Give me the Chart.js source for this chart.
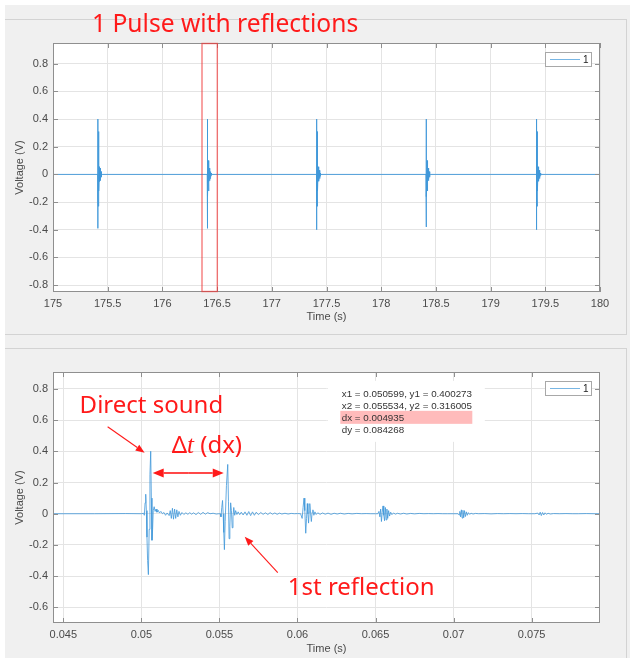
<!DOCTYPE html>
<html><head><meta charset="utf-8">
<script src="https://cdn.jsdelivr.net/npm/chart.js@4/dist/chart.umd.min.js"></script>
<style>
html,body{margin:0;padding:0;background:#fff;}
#page{position:relative;width:630px;height:658px;overflow:hidden;}
.bg{position:absolute;left:5px;top:5px;width:625px;height:653px;background:#f0f0f0;}
.hl{position:absolute;height:1px;background:#d3d3d3;}
.vl{position:absolute;width:1px;background:#d3d3d3;}
canvas{position:absolute;left:0;}
</style></head><body>
<div id="page">
<div class="bg"></div>
<div class="hl" style="left:5px;top:19px;width:622px"></div>
<div class="vl" style="left:626px;top:19px;height:315px"></div>
<div class="hl" style="left:5px;top:334px;width:622px"></div>
<div class="hl" style="left:5px;top:348px;width:622px"></div>
<div class="vl" style="left:626px;top:348px;height:310px"></div>
<canvas id="c1" width="630" height="330" style="top:0px"></canvas>
<canvas id="c2" width="630" height="318" style="top:340px"></canvas>
</div>
<script>
// ---------------- DATA ----------------
// Top panel: 5 s of recording, one pulse per second
const topXTicks = [175, 175.5, 176, 176.5, 177, 177.5, 178, 178.5, 179, 179.5, 180];
const topXLabels = ['175', '175.5', '176', '176.5', '177', '177.5', '178', '178.5', '179', '179.5', '180'];
const topYTicks = [-0.8, -0.6, -0.4, -0.2, 0, 0.2, 0.4, 0.6, 0.8];
const topYLabels = ['-0.8', '-0.6', '-0.4', '-0.2', '0', '0.2', '0.4', '0.6', '0.8'];

const topTime = [
  175.0000,
  175.4096, 175.4098, 175.4100, 175.4102, 175.4104, 175.4150, 175.4152, 175.4154, 175.4200, 175.4202,
  175.4250, 175.4252, 175.4300, 175.4302, 175.4350, 175.4352, 175.4400, 175.4402, 175.4450, 175.4452, 175.4500,
  176.4096, 176.4098, 176.4100, 176.4102, 176.4104, 176.4150, 176.4152, 176.4154, 176.4200, 176.4202,
  176.4250, 176.4252, 176.4300, 176.4302, 176.4350, 176.4352, 176.4400, 176.4402, 176.4450, 176.4452, 176.4500,
  177.4096, 177.4098, 177.4100, 177.4102, 177.4104, 177.4150, 177.4152, 177.4154, 177.4200, 177.4202,
  177.4250, 177.4252, 177.4300, 177.4302, 177.4350, 177.4352, 177.4400, 177.4402, 177.4450, 177.4452, 177.4500,
  178.4096, 178.4098, 178.4100, 178.4102, 178.4104, 178.4150, 178.4152, 178.4154, 178.4200, 178.4202,
  178.4250, 178.4252, 178.4300, 178.4302, 178.4350, 178.4352, 178.4400, 178.4402, 178.4450, 178.4452, 178.4500,
  179.4196, 179.4198, 179.4200, 179.4202, 179.4204, 179.4250, 179.4252, 179.4254, 179.4300, 179.4302,
  179.4350, 179.4352, 179.4400, 179.4402, 179.4450, 179.4452, 179.4500, 179.4502, 179.4550, 179.4552, 179.4600,
  180.0000
];
const topVolt = [
  0,
  0, 0.12, -0.39, 0.40, -0.17, -0.23, 0.31, -0.16, 0.10, -0.12,
  0.055, -0.05, 0.045, -0.045, 0.03, -0.03, 0.02, -0.02, 0.01, -0.008, 0,
  0, 0.12, -0.39, 0.40, -0.17, -0.23, 0.31, -0.16, 0.10, -0.12,
  0.055, -0.05, 0.045, -0.045, 0.03, -0.03, 0.02, -0.02, 0.01, -0.008, 0,
  0, 0.12, -0.40, 0.40, -0.17, -0.23, 0.31, -0.16, 0.10, -0.12,
  0.055, -0.05, 0.045, -0.045, 0.03, -0.03, 0.02, -0.02, 0.01, -0.008, 0,
  0, 0.12, -0.38, 0.40, -0.17, -0.23, 0.31, -0.16, 0.10, -0.12,
  0.055, -0.05, 0.045, -0.045, 0.03, -0.03, 0.02, -0.02, 0.01, -0.008, 0,
  0, 0.12, -0.40, 0.40, -0.17, -0.23, 0.31, -0.16, 0.10, -0.12,
  0.055, -0.05, 0.045, -0.045, 0.03, -0.03, 0.02, -0.02, 0.01, -0.008, 0,
  0
];

// Bottom panel: zoom on one pulse (direct sound + reflections)
const botXTicks = [0.045, 0.05, 0.055, 0.06, 0.065, 0.07, 0.075];
const botXLabels = ['0.045', '0.05', '0.055', '0.06', '0.065', '0.07', '0.075'];
const botYTicks = [-0.6, -0.4, -0.2, 0, 0.2, 0.4, 0.6, 0.8];
const botYLabels = ['-0.6', '-0.4', '-0.2', '0', '0.2', '0.4', '0.6', '0.8'];

const leadT = [0.0443, 0.0470, 0.0490, 0.0500, 0.05015];
const leadV = [0, 0, 0.001, 0, 0.003];

const directT = [0.05019, 0.05024, 0.05028, 0.05032, 0.05036, 0.05040, 0.05045, 0.05050, 0.05055, 0.050599,
  0.05064, 0.05068, 0.05072, 0.05076, 0.05082, 0.05088, 0.05094, 0.05100, 0.05108, 0.05116,
  0.05125, 0.05135, 0.05145, 0.05155, 0.05165, 0.05178, 0.05185, 0.05192, 0.05199, 0.05206,
  0.05213, 0.05220, 0.05227, 0.05234, 0.05241, 0.05250, 0.05260, 0.05272, 0.05285, 0.05298,
  0.05310, 0.05322, 0.05335, 0.05350, 0.05365, 0.05380, 0.05395, 0.05410, 0.05425, 0.05440,
  0.05460, 0.05480, 0.05495];
const directV = [-0.01, 0.07, 0.125, 0.02, -0.15, -0.30, -0.39, -0.10, 0.25, 0.400273,
  0.10, -0.17, -0.10, 0.02, 0.045, 0.015, 0.03, 0.01, 0.022, 0.005,
  0.015, 0.0, 0.008, -0.01, 0.005, -0.012, 0.02, -0.03, 0.035, -0.035,
  0.03, -0.03, 0.025, -0.02, 0.015, -0.01, 0.008, -0.005, 0.006, -0.004,
  0.007, -0.003, 0.006, -0.006, 0.008, -0.004, 0.009, -0.003, 0.007, 0.0,
  0.003, -0.002, 0.0];

const refl1T = [0.05505, 0.05510, 0.05515, 0.05520, 0.05524, 0.05528, 0.05532, 0.05537, 0.05545, 0.055534,
  0.05558, 0.05562, 0.05567, 0.05572, 0.05577, 0.05582, 0.05587, 0.05592, 0.05598, 0.05604,
  0.05612, 0.05620, 0.05630, 0.05640, 0.05652, 0.05664, 0.05676, 0.05688, 0.05700, 0.05712,
  0.05724, 0.05736, 0.05750, 0.05765, 0.05780, 0.05795, 0.05810, 0.05825, 0.05840, 0.05855,
  0.05870, 0.05885, 0.05900, 0.05920, 0.05940, 0.05960, 0.05980, 0.06000, 0.06020];
const refl1V = [0.0, -0.02, 0.04, 0.085, 0.0, -0.12, -0.23, -0.05, 0.18, 0.316005,
  0.08, -0.16, -0.08, 0.07, 0.02, -0.09, -0.02, 0.04, -0.01, 0.02,
  -0.005, 0.012, -0.006, 0.01, -0.008, 0.012, -0.01, 0.014, -0.012, 0.012,
  -0.01, 0.01, -0.006, 0.008, -0.004, 0.006, -0.005, 0.007, -0.003, 0.005,
  -0.004, 0.004, -0.002, 0.003, -0.002, 0.002, 0.0, 0.001, 0.0];

const refl2T = [0.06030, 0.06036, 0.06042, 0.06047, 0.06053, 0.06058, 0.06063, 0.06067, 0.06071, 0.06075,
  0.06079, 0.06084, 0.06089, 0.06094, 0.06099, 0.06105, 0.06112, 0.06120, 0.06130, 0.06145,
  0.06160, 0.06178, 0.06196, 0.06215, 0.06235, 0.06255, 0.06275, 0.06300, 0.06325, 0.06350,
  0.06380, 0.06410, 0.06440, 0.06470, 0.06500];
const refl2V = [-0.03, 0.04, 0.10, 0.02, -0.125, -0.03, 0.065, 0.0, -0.06, 0.01,
  0.065, 0.0, -0.05, 0.01, 0.025, -0.01, 0.012, -0.005, 0.006, -0.004,
  0.005, -0.003, 0.004, -0.004, 0.003, -0.002, 0.003, -0.002, 0.002, -0.001,
  0.002, 0.0, 0.001, 0.0, 0.0];

const refl3T = [0.06515, 0.06522, 0.06528, 0.06533, 0.06538, 0.06543, 0.06548, 0.06553, 0.06558, 0.06563,
  0.06568, 0.06573, 0.06578, 0.06584, 0.06590, 0.06597, 0.06605, 0.06615, 0.06628, 0.06640,
  0.06660, 0.06680, 0.06700, 0.06725, 0.06750, 0.06780, 0.06810, 0.06840, 0.06870, 0.06900,
  0.06930, 0.06960, 0.06990];
const refl3V = [0.0, 0.015, -0.02, 0.03, -0.05, 0.01, 0.05, -0.01, -0.045, 0.04,
  -0.04, 0.03, -0.03, 0.02, -0.015, 0.01, -0.006, 0.005, -0.003, 0.003,
  -0.002, 0.003, -0.002, 0.002, -0.001, 0.002, 0.0, 0.001, 0.0, 0.001,
  0.0, 0.0, 0.0];

const refl4T = [0.07028, 0.07035, 0.07040, 0.07045, 0.07050, 0.07055, 0.07060, 0.07065, 0.07070, 0.07076,
  0.07082, 0.07088, 0.07095, 0.07103, 0.07112, 0.07125, 0.07140, 0.07160, 0.07200, 0.07240,
  0.07280, 0.07320, 0.07360, 0.07400, 0.07440, 0.07480, 0.07520];
const refl4V = [0.0, -0.008, 0.015, -0.02, 0.025, -0.028, 0.022, -0.025, 0.02, -0.018,
  0.012, -0.01, 0.007, -0.004, 0.003, -0.002, 0.002, 0.0, 0.001, -0.001,
  0.001, 0.0, 0.001, 0.0, 0.001, 0.0, 0.0];

const refl5T = [0.07540, 0.07548, 0.07555, 0.07562, 0.07570, 0.07578, 0.07586, 0.07595, 0.07605, 0.07620,
  0.07640, 0.07680, 0.07720, 0.07760, 0.07800, 0.07850, 0.07900, 0.07938];
const refl5V = [0.004, -0.008, 0.01, -0.012, 0.008, -0.008, 0.006, -0.004, 0.003, -0.002,
  0.001, 0.0, 0.001, 0.0, 0.0, 0.001, 0.0, 0.0];

// data-cursor readout shown in the bottom panel
const cursorLines = ['x1 = 0.050599, y1 = 0.400273', 'x2 = 0.055534, y2 = 0.316005', 'dx = 0.004935', 'dy = 0.084268'];

// ---------------- STYLE ----------------
const LINE_COLOR = '#3f97d9';
const AXIS_COLOR = '#8f8f8f';
const GRID_COLOR = '#e4e4e4';
const TEXT_COLOR = '#4a4a4a';
const RED = '#ff1a1a';
const TICK_FONT = {family: "'Liberation Sans', Arial, sans-serif", size: 11};
const ANN_FONT = "'Noto Sans', 'Open Sans', sans-serif";

function pts(ts, vs) { return ts.map((t, i) => ({x: t, y: vs[i]})); }

function axis(min, max, ticksArr, labelsArr, isY, fixedSize, titleText, titlePad) {
  return {
    type: 'linear', min: min, max: max,
    afterFit(s) { if (isY) s.width = fixedSize; else s.height = fixedSize; },
    afterBuildTicks(s) { s.ticks = ticksArr.map(v => ({value: v})); },
    ticks: {
      autoSkip: false, maxRotation: 0, minRotation: 0, padding: 5,
      font: TICK_FONT, color: TEXT_COLOR,
      callback: (v) => { const i = ticksArr.indexOf(v); return i >= 0 ? labelsArr[i] : ''; }
    },
    grid: {color: GRID_COLOR, lineWidth: 1, drawTicks: false},
    border: {display: false},
    title: {display: true, text: titleText, font: TICK_FONT, color: TEXT_COLOR, padding: titlePad}
  };
}

function drawFrame(chart, xt, yt) {
  const {ctx, chartArea: a} = chart;
  const xs = chart.scales.x, ys = chart.scales.y;
  ctx.save();
  ctx.strokeStyle = AXIS_COLOR; ctx.lineWidth = 1;
  ctx.strokeRect(a.left + 0.5, a.top + 0.5, a.right - a.left - 1, a.bottom - a.top - 1);
  ctx.beginPath();
  xt.forEach(v => {
    const p = Math.round(xs.getPixelForValue(v)) + 0.5;
    ctx.moveTo(p, a.bottom); ctx.lineTo(p, a.bottom - 5);
    ctx.moveTo(p, a.top); ctx.lineTo(p, a.top + 5);
  });
  yt.forEach(v => {
    const p = Math.round(ys.getPixelForValue(v)) + 0.5;
    ctx.moveTo(a.left, p); ctx.lineTo(a.left + 5, p);
    ctx.moveTo(a.right, p); ctx.lineTo(a.right - 5, p);
  });
  ctx.stroke();
  ctx.restore();
}

function drawLegend(chart, label) {
  const {ctx, chartArea: a} = chart;
  const w = 47, h = 15;
  const x = Math.round(a.right - 8 - w), y = Math.round(a.top + 9);
  ctx.save();
  ctx.fillStyle = '#fff'; ctx.fillRect(x, y, w, h);
  ctx.strokeStyle = '#a8a8a8'; ctx.lineWidth = 1;
  ctx.strokeRect(x + 0.5, y + 0.5, w - 1, h - 1);
  ctx.strokeStyle = LINE_COLOR; ctx.globalAlpha = 0.7;
  ctx.beginPath(); ctx.moveTo(x + 5, y + h / 2); ctx.lineTo(x + 35, y + h / 2); ctx.stroke();
  ctx.globalAlpha = 1;
  ctx.fillStyle = '#222'; ctx.font = "10px 'Liberation Sans', Arial, sans-serif";
  ctx.textBaseline = 'middle'; ctx.textAlign = 'left';
  ctx.fillText(label, x + 38, y + h / 2 + 0.5);
  ctx.restore();
}

function arrow(ctx, x1, y1, x2, y2, len, half) {
  const ang = Math.atan2(y2 - y1, x2 - x1);
  const bx = x2 - len * Math.cos(ang), by = y2 - len * Math.sin(ang);
  ctx.beginPath(); ctx.moveTo(x1, y1); ctx.lineTo(bx, by); ctx.stroke();
  ctx.beginPath();
  ctx.moveTo(x2, y2);
  ctx.lineTo(bx + half * Math.sin(ang), by - half * Math.cos(ang));
  ctx.lineTo(bx - half * Math.sin(ang), by + half * Math.cos(ang));
  ctx.closePath(); ctx.fill();
}

const whiteArea = {
  id: 'whiteArea',
  beforeDraw(chart) {
    const {ctx, chartArea: a} = chart;
    ctx.save(); ctx.fillStyle = '#fff';
    ctx.fillRect(a.left, a.top, a.right - a.left, a.bottom - a.top);
    ctx.restore();
  }
};

// ---------------- TOP CHART ----------------
new Chart(document.getElementById('c1'), {
  type: 'scatter',
  data: {datasets: [{label: '1', data: pts(topTime, topVolt), showLine: true, pointRadius: 0,
    borderColor: LINE_COLOR, borderWidth: 0.9, tension: 0}]},
  options: {
    responsive: false, animation: false, devicePixelRatio: 1,
    layout: {padding: {left: 0, top: 43, right: 30, bottom: 0}},
    plugins: {legend: {display: false}, tooltip: {enabled: false}},
    scales: {
      x: axis(175, 180, topXTicks, topXLabels, false, 38, 'Time (s)', {top: 0, bottom: 6}),
      y: axis(-0.85, 0.95, topYTicks, topYLabels, true, 53, 'Voltage (V)', {top: 13, bottom: 0})
    }
  },
  plugins: [whiteArea, {
    id: 'topOverlay',
    afterDatasetsDraw(chart) {
      const {ctx, chartArea: a} = chart;
      const xs = chart.scales.x;
      drawFrame(chart, topXTicks, topYTicks);
      drawLegend(chart, '1');
      // highlighted pulse window
      const x1 = xs.getPixelForValue(176.362), x2 = xs.getPixelForValue(176.502);
      ctx.save();
      ctx.strokeStyle = 'rgba(240,50,50,0.65)'; ctx.lineWidth = 1.4;
      ctx.strokeRect(x1, a.top + 0.5, x2 - x1, a.bottom - a.top - 1);
      // title
      ctx.fillStyle = RED; ctx.font = '24.6px ' + ANN_FONT;
      ctx.textAlign = 'left'; ctx.textBaseline = 'alphabetic';
      ctx.fillText('1 Pulse with reflections', 92, 32);
      ctx.restore();
    }
  }]
});

// ---------------- BOTTOM CHART ----------------
const botData = [].concat(pts(leadT, leadV), pts(directT, directV), pts(refl1T, refl1V),
  pts(refl2T, refl2V), pts(refl3T, refl3V), pts(refl4T, refl4V), pts(refl5T, refl5V));

new Chart(document.getElementById('c2'), {
  type: 'scatter',
  data: {datasets: [{label: '1', data: botData, showLine: true, pointRadius: 0,
    borderColor: LINE_COLOR, borderWidth: 0.8, tension: 0}]},
  options: {
    responsive: false, animation: false, devicePixelRatio: 1,
    layout: {padding: {left: 0, top: 32, right: 30, bottom: 0}},
    plugins: {legend: {display: false}, tooltip: {enabled: false}},
    scales: {
      x: axis(0.04434, 0.07938, botXTicks, botXLabels, false, 35, 'Time (s)', {top: 0, bottom: 2}),
      y: axis(-0.70, 0.908, botYTicks, botYLabels, true, 53, 'Voltage (V)', {top: 13, bottom: 0})
    }
  },
  plugins: [whiteArea, {
    id: 'botOverlay',
    afterDatasetsDraw(chart) {
      const {ctx} = chart;
      const X = v => chart.scales.x.getPixelForValue(v);
      const Y = v => chart.scales.y.getPixelForValue(v);
      // data cursor readout
      const tx = X(0.06284), ty = Y(0.768);
      ctx.save();
      ctx.fillStyle = '#fff';
      ctx.fillRect(tx - 14, ty - 13, 157, 61);
      ctx.fillStyle = 'rgba(255,170,170,0.8)';
      ctx.fillRect(tx - 1.5, ty + 17, 132, 13);
      ctx.fillStyle = '#333'; ctx.font = "9.8px 'Liberation Sans', Arial, sans-serif";
      ctx.textAlign = 'left'; ctx.textBaseline = 'middle';
      cursorLines.forEach((s, i) => ctx.fillText(s, tx, ty + i * 12));
      ctx.restore();

      drawFrame(chart, botXTicks, botYTicks);
      drawLegend(chart, '1');

      ctx.save();
      ctx.strokeStyle = RED; ctx.fillStyle = RED;
      // arrow to direct sound
      ctx.lineWidth = 1.1;
      arrow(ctx, X(0.04784), Y(0.557), X(0.050208), Y(0.391), 9, 3.5);
      // arrow to first reflection
      arrow(ctx, X(0.058737), Y(-0.377), X(0.056622), Y(-0.147), 9, 3.5);
      // delta-t double arrow
      ctx.lineWidth = 1.6;
      const ay = Y(0.261), ax1 = X(0.050724), ax2 = X(0.055276);
      const mid = (ax1 + ax2) / 2;
      arrow(ctx, mid, ay, ax1, ay, 11, 4.5);
      arrow(ctx, mid, ay, ax2, ay, 11, 4.5);
      // labels
      ctx.textAlign = 'left'; ctx.textBaseline = 'alphabetic';
      ctx.font = '24px ' + ANN_FONT;
      ctx.fillText('Direct sound', X(0.046045), Y(0.646));
      ctx.fillText('1st reflection', X(0.059378), Y(-0.518));
      let dx = X(0.051942); const dy = Y(0.391);
      ctx.fillText('\u0394', dx, dy); dx += ctx.measureText('\u0394').width;
      ctx.font = "italic 25px 'Liberation Serif', 'DejaVu Serif', serif";
      ctx.fillText('t', dx, dy); dx += ctx.measureText('t').width;
      ctx.font = '24px ' + ANN_FONT;
      ctx.fillText(' (dx)', dx, dy);
      ctx.restore();
    }
  }]
});
</script>
</body></html>
